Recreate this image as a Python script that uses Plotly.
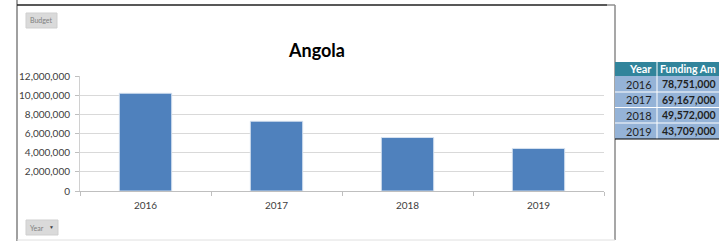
import plotly.graph_objects as go

# ---- data ----
years = ["2016", "2017", "2018", "2019"]
budget = [10200000, 7280000, 5580000, 4440000]
y_ticks = [0, 2000000, 4000000, 6000000, 8000000, 10000000, 12000000]
y_tick_labels = ["0", "2,000,000", "4,000,000", "6,000,000", "8,000,000", "10,000,000", "12,000,000"]
table_years = ["2016", "2017", "2018", "2019"]
table_funding = ["78,751,000", "69,167,000", "49,572,000", "43,709,000"]
table_header = ["Year", "Funding Am"]
chart_title = "Angola"

W, H = 719, 241
L, R, T, B = 80, 604, 76, 191
FONT = "Lato, Open Sans, sans-serif"


def fx(px):
    return (px - L) / (R - L)


def fy(py):
    return (B - py) / (B - T)


fig = go.Figure()
fig.add_trace(go.Bar(
    x=years, y=budget,
    marker=dict(color="#4F81BD", line=dict(color="rgba(220,230,242,0.9)", width=1)),
    width=0.4,
))

shapes = []
annots = []


def rect(x0, y0, x1, y1, fill, line=None, lw=0):
    shapes.append(dict(type="rect", xref="paper", yref="paper",
                       x0=fx(x0), x1=fx(x1), y0=fy(y0), y1=fy(y1),
                       fillcolor=fill, line=dict(color=line or fill, width=lw), layer="above"))


def line(x0, y0, x1, y1, color, w=1):
    shapes.append(dict(type="line", xref="paper", yref="paper",
                       x0=fx(x0), x1=fx(x1), y0=fy(y0), y1=fy(y1),
                       line=dict(color=color, width=w), layer="above"))


def text(x, y, s, size, color, xanchor="center", bold=False, family=FONT):
    annots.append(dict(xref="paper", yref="paper", x=fx(x), y=fy(y), text=("<b>%s</b>" % s) if bold else s,
                       showarrow=False, xanchor=xanchor, yanchor="middle",
                       font=dict(size=size, color=color, family=family)))


# frame
line(17, 0, 17, 241, "#808080", 1.5)
line(17, 5, 607, 5, "#202020", 1.5)
line(607, 5, 615, 5, "#909090", 1.5)
line(615, 5, 615, 240, "#8a8a8a", 1.5)
line(17, 240, 615, 240, "#E0E0E0", 1)

# buttons
rect(26, 13, 57, 28, "#DADADA", "#CFCFCF", 1)
text(41.5, 20.5, "Budget", 7, "#808080")
rect(26, 220, 58, 235, "#DADADA", "#CFCFCF", 1)
text(37, 227.5, "Year", 7, "#808080")
text(51, 227, "▼", 5, "#404040")

# title
text(316, 50, chart_title, 18, "#000000", bold=True)

# table
rect(615, 62, 719, 76, "#31849B")
rect(615, 76, 719, 139, "#95B3D7")
row_edges = [76, 92, 107.5, 123, 139]
for yy in row_edges[1:-1]:
    line(615, yy, 719, yy, "#FFFFFF", 1)
line(657, 62, 657, 139, "#FFFFFF", 1)
line(615, 139, 719, 139, "#000000", 1.2)
text(654, 69, table_header[0], 11, "#FFFFFF", xanchor="right", bold=True)
text(658, 69, table_header[1], 10.5, "#FFFFFF", xanchor="left", bold=True)
for i, (yr, val) in enumerate(zip(table_years, table_funding)):
    cy = (row_edges[i] + row_edges[i + 1]) / 2
    text(654, cy, yr, 11, "#1F1F1F", xanchor="right")
    text(718, cy, val, 10.5, "#1F1F1F", xanchor="right", bold=True)

fig.update_layout(
    width=W, height=H,
    margin=dict(l=L, r=W - R, t=T, b=H - B, pad=0),
    paper_bgcolor="white", plot_bgcolor="white",
    showlegend=False,
    font=dict(family=FONT, color="#404040", size=10),
    shapes=shapes, annotations=annots,
    xaxis=dict(type="category", tickson="boundaries", ticks="outside", ticklen=4,
               tickcolor="#BFBFBF", showline=True, linecolor="#BFBFBF", linewidth=1,
               showgrid=False, tickfont=dict(size=10, color="#404040", family=FONT),
               ticklabelstandoff=5, fixedrange=True),
    yaxis=dict(range=[0, 12000000], tickvals=y_ticks, ticktext=y_tick_labels,
               ticks="outside", ticklen=4, tickcolor="#BFBFBF",
               showline=True, linecolor="#D0D0D0", linewidth=1,
               showgrid=True, gridcolor="#D9D9D9", gridwidth=1, zeroline=False,
               tickfont=dict(size=10, color="#404040", family=FONT),
               ticklabelstandoff=3, fixedrange=True),
)

fig.write_html("out.html", config=dict(displayModeBar=False),
               post_script="document.body.style.margin='0';document.body.style.overflow='hidden';")
